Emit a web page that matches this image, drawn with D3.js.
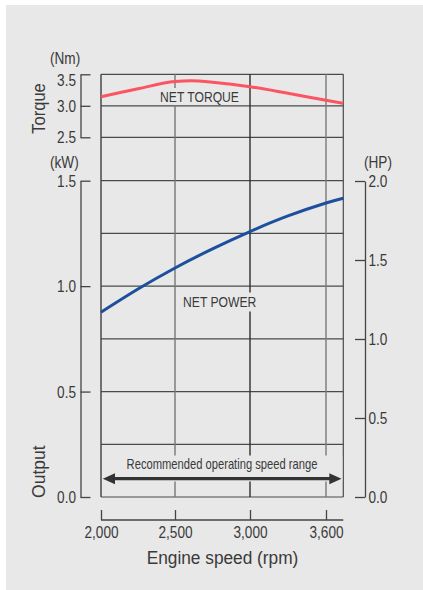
<!DOCTYPE html>
<html>
<head>
<meta charset="utf-8">
<script src="https://cdn.jsdelivr.net/npm/d3@7"></script>
<style>
  html, body { margin: 0; padding: 0; background: #ffffff; }
  svg { display: block; }
  text { font-family: "Liberation Sans", Arial, sans-serif; fill: #3a3a3a; }
</style>
</head>
<body>
<script>
// ---------------- data ----------------
const rpmTicks = [2000, 2500, 3000, 3600];
const rpmTickLabels = ["2,000", "2,500", "3,000", "3,600"];

const torqueRpm = [2000, 2250, 2500, 2610, 2750, 3000, 3300, 3600, 3700];
const torqueNm  = [3.144, 3.271, 3.385, 3.398, 3.373, 3.303, 3.198, 3.087, 3.040];

const powerRpm = [2000, 2250, 2500, 2750, 3000, 3300, 3600, 3700];
const powerKW  = [0.876, 0.986, 1.086, 1.177, 1.259, 1.333, 1.394, 1.417];

const torqueTicks = [2.5, 3.0, 3.5];
const torqueTickLabels = ["2.5", "3.0", "3.5"];
const kwTicks = [0, 0.5, 1.0, 1.5];
const kwTickLabels = ["0.0", "0.5", "1.0", "1.5"];
const kwGrid = [0, 0.25, 0.5, 0.75, 1.0, 1.25, 1.5];
const hpTicks = [0, 0.5, 1.0, 1.5, 2.0];
const hpTickLabels = ["0.0", "0.5", "1.0", "1.5", "2.0"];

const labels = {
  torqueTitle: "Torque", outputTitle: "Output", xTitle: "Engine speed (rpm)",
  nm: "(Nm)", kw: "(kW)", hp: "(HP)",
  netTorque: "NET TORQUE", netPower: "NET POWER",
  range: "Recommended operating speed range"
};

// ---------------- layout ----------------
const W = 423, H = 590;
const svg = d3.select("body").append("svg").attr("width", W).attr("height", H);

svg.append("rect").attr("x", 6).attr("y", 5).attr("width", W - 6).attr("height", H - 5)
  .attr("fill", "#e8e8e8");

const x = d3.scaleLinear()
  .domain([2000, 2500, 3000, 3600, 3700])
  .range([101, 175, 250, 326, 343.3]);
const X0 = 101, X1 = 343.3;

const yT = d3.scaleLinear().domain([2.5, 3.5]).range([137.3, 74.3]);
const yP = d3.scaleLinear().domain([0, 1.5]).range([497, 180.7]);
const yH = d3.scaleLinear().domain([0, 2]).range([497, 181]);

const SX = 0.85;
function stext(str, tx, ty, size, anchor, sx, rot) {
  return svg.append("text")
    .attr("transform", `translate(${tx},${ty})` + (rot ? ` rotate(${rot})` : "") + ` scale(${sx},1)`)
    .attr("font-size", size)
    .attr("text-anchor", anchor)
    .text(str);
}

// ---------------- grid ----------------
const grid = svg.append("g");
grid.selectAll(".ht").data(torqueTicks).join("line")
  .attr("x1", X0).attr("x2", X1)
  .attr("y1", d => yT(d)).attr("y2", d => yT(d))
  .attr("stroke", "#4a4a4a").attr("stroke-width", 1.2);
grid.selectAll(".hp").data(kwGrid).join("line")
  .attr("x1", X0).attr("x2", X1)
  .attr("y1", d => yP(d)).attr("y2", d => yP(d))
  .attr("stroke", "#4a4a4a").attr("stroke-width", 1.2);
const vColors = {2000: "#4a4a4a", 2500: "#777", 3000: "#2e2e2e", 3600: "#7a7a7a"};
grid.selectAll(".v").data(rpmTicks).join("line")
  .attr("x1", d => x(d)).attr("x2", d => x(d))
  .attr("y1", yT(3.5)).attr("y2", yP(0))
  .attr("stroke", d => vColors[d]).attr("stroke-width", d => d === 2000 ? 1.5 : 1.4);
grid.append("line").attr("x1", X1).attr("x2", X1).attr("y1", yT(3.5)).attr("y2", yP(0))
  .attr("stroke", "#4a4a4a").attr("stroke-width", 1.2);

// label backgrounds
const bg = "#e8e8e8";
svg.append("rect").attr("x", 158).attr("y", 88).attr("width", 84).attr("height", 17).attr("fill", bg);
svg.append("rect").attr("x", 180).attr("y", 292.5).attr("width", 80).attr("height", 19).attr("fill", bg);
svg.append("rect").attr("x", X0 + 1.2).attr("y", 455.5).attr("width", X1 - X0 - 2.2).attr("height", 26).attr("fill", bg);

// curve labels
stext(labels.netTorque, 199.5, 102.3, 15, "middle", 0.81);
stext(labels.netPower, 219.7, 307.3, 15, "middle", 0.81);
stext(labels.range, 222, 469, 14, "middle", 0.8);

// arrow
const arrowY = 478.7;
svg.append("line").attr("x1", X0 + 12).attr("x2", X1 - 12).attr("y1", arrowY).attr("y2", arrowY)
  .attr("stroke", "#333").attr("stroke-width", 3.2);
svg.append("path").attr("d", `M${X0 + 1.8},${arrowY} L${X0 + 14},${arrowY - 5.5} L${X0 + 14},${arrowY + 5.5} Z`).attr("fill", "#333");
svg.append("path").attr("d", `M${X1 - 1.8},${arrowY} L${X1 - 14},${arrowY - 5.5} L${X1 - 14},${arrowY + 5.5} Z`).attr("fill", "#333");

// ---------------- curves ----------------
const torqueLine = d3.line().x(d => x(d[0])).y(d => yT(d[1])).curve(d3.curveMonotoneX);
svg.append("path").datum(d3.zip(torqueRpm, torqueNm)).attr("d", torqueLine)
  .attr("fill", "none").attr("stroke", "#fb5462").attr("stroke-width", 3);
const powerLine = d3.line().x(d => x(d[0])).y(d => yP(d[1])).curve(d3.curveNatural);
svg.append("path").datum(d3.zip(powerRpm, powerKW)).attr("d", powerLine)
  .attr("fill", "none").attr("stroke", "#1c4f9e").attr("stroke-width", 3);

// ---------------- axes ----------------
function styleAxis(g) {
  g.select(".domain").attr("stroke", "#444").attr("stroke-width", 1.3);
  g.selectAll(".tick line").attr("stroke", "#444").attr("stroke-width", 1.3);
  g.selectAll("text").attr("font-size", 16).attr("fill", "#3a3a3a")
    .attr("font-family", "Liberation Sans, Arial, sans-serif");
}
const AXL = 80.5;
const gT = svg.append("g").attr("transform", `translate(${AXL},0)`)
  .call(d3.axisLeft(yT).tickValues(torqueTicks).tickFormat((d, i) => torqueTickLabels[i])
    .tickSizeInner(-10).tickSizeOuter(0));
styleAxis(gT);
gT.selectAll("text").attr("transform", `scale(${SX},1)`).attr("x", -4.5 / SX)
  .attr("dy", d => d === 3.5 ? "0.71em" : "0.34em");

const gP = svg.append("g").attr("transform", `translate(${AXL},0)`)
  .call(d3.axisLeft(yP).tickValues(kwTicks).tickFormat((d, i) => kwTickLabels[i])
    .tickSizeInner(-10).tickSizeOuter(0));
styleAxis(gP);
gP.selectAll("text").attr("transform", `scale(${SX},1)`).attr("x", -4.5 / SX).attr("dy", "0.34em");

const gH = svg.append("g").attr("transform", `translate(365,0)`)
  .call(d3.axisRight(yH).tickValues(hpTicks).tickFormat((d, i) => hpTickLabels[i])
    .tickSizeInner(-10).tickSizeOuter(0));
styleAxis(gH);
gH.selectAll("text").attr("transform", `scale(${SX},1)`).attr("x", 3.5 / SX).attr("dy", "0.34em");

const gX = svg.append("g").attr("transform", `translate(0,520)`)
  .call(d3.axisBottom(x).tickValues(rpmTicks).tickFormat((d, i) => rpmTickLabels[i])
    .tickSizeInner(-10).tickSizeOuter(0));
styleAxis(gX);
gX.select(".domain").attr("d", `M${X0},0H${X1}`);
gX.selectAll("text").attr("transform", `scale(${SX},1)`).attr("y", 18.4).attr("dy", "0");

// titles & units
stext(labels.nm, 50, 64.3, 16, "start", SX);
stext(labels.kw, 50, 167.5, 16, "start", SX);
stext(labels.hp, 364, 167.5, 16, "start", SX);
stext(labels.xTitle, 222.5, 564, 18, "middle", 0.96);
stext(labels.torqueTitle, 44.5, 108.5, 18, "middle", 0.92, -90);
stext(labels.outputTitle, 44.5, 471.7, 18, "middle", 0.97, -90);
</script>
</body>
</html>
